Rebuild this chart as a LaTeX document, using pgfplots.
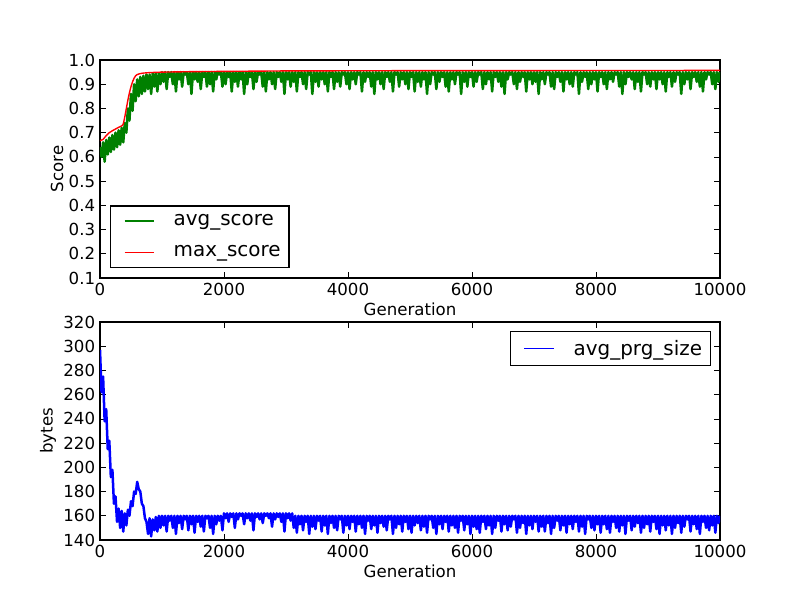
\documentclass[border=0pt]{standalone}
\usepackage{fontspec}
\setmainfont{DejaVu Sans}
\usepackage{pgfplots}
\usepackage{pgfplotstable}
\pgfplotsset{compat=1.18}
\definecolor{mgreen}{rgb}{0,0.5,0}
\pgfplotstableread[row sep=\\, header=false]{
0.64\\0.60\\0.66\\0.58\\0.67\\0.61\\0.68\\0.62\\0.69\\0.63\\0.70\\0.64\\0.71\\0.65\\0.72\\0.66\\
0.74\\0.70\\0.80\\0.75\\0.86\\0.79\\0.90\\0.83\\0.92\\0.85\\0.93\\0.86\\0.935\\0.87\\0.94\\0.88\\0.94\\0.86\\0.945\\0.89\\0.945\\0.87\\0.945\\0.90\\
0.95\\
0.91\\0.95\\0.88\\0.95\\0.93\\0.95\\0.90\\0.95\\0.87\\0.95\\0.92\\0.95\\0.89\\0.95\\0.94\\0.95\\0.90\\0.95\\0.86\\0.95\\
0.92\\0.95\\0.91\\0.95\\0.88\\0.95\\0.93\\0.95\\0.89\\0.95\\0.90\\0.95\\0.87\\0.95\\0.92\\0.95\\0.94\\0.95\\0.89\\0.95\\
0.90\\0.95\\0.93\\0.95\\0.87\\0.95\\0.91\\0.95\\0.89\\0.95\\0.92\\0.95\\0.86\\0.95\\0.90\\0.95\\0.93\\0.95\\0.88\\0.95\\
0.91\\0.95\\0.94\\0.95\\0.89\\0.95\\0.87\\0.95\\0.92\\0.95\\0.90\\0.95\\0.88\\0.95\\0.93\\0.95\\0.91\\0.95\\0.86\\0.95\\
0.92\\0.95\\0.89\\0.95\\0.91\\0.95\\0.87\\0.95\\0.93\\0.95\\0.90\\0.95\\0.88\\0.95\\0.94\\0.95\\0.86\\0.95\\0.91\\0.95\\
0.89\\0.95\\0.92\\0.95\\0.90\\0.95\\0.87\\0.95\\0.93\\0.95\\0.88\\0.95\\0.91\\0.95\\0.89\\0.95\\0.94\\0.95\\0.90\\0.95\\
0.88\\0.95\\0.92\\0.95\\0.90\\0.95\\0.94\\0.95\\0.87\\0.95\\0.91\\0.95\\0.93\\0.95\\0.89\\0.95\\0.86\\0.95\\0.92\\0.95\\
0.90\\0.95\\0.88\\0.95\\0.93\\0.95\\0.91\\0.95\\0.87\\0.95\\0.94\\0.95\\0.89\\0.95\\0.92\\0.95\\0.90\\0.95\\0.88\\0.95\\
0.93\\0.95\\0.87\\0.95\\0.91\\0.95\\0.89\\0.95\\0.92\\0.95\\0.86\\0.95\\0.90\\0.95\\0.94\\0.95\\0.88\\0.95\\0.91\\0.95\\
0.93\\0.95\\0.89\\0.95\\0.87\\0.95\\0.92\\0.95\\0.90\\0.95\\0.94\\0.95\\0.86\\0.95\\0.91\\0.95\\0.89\\0.95\\0.93\\0.95\\
0.89\\0.95\\0.91\\0.95\\0.94\\0.95\\0.88\\0.95\\0.90\\0.95\\0.92\\0.95\\0.87\\0.95\\0.93\\0.95\\0.91\\0.95\\0.89\\0.95\\
0.86\\0.95\\0.92\\0.95\\0.94\\0.95\\0.90\\0.95\\0.88\\0.95\\0.91\\0.95\\0.93\\0.95\\0.87\\0.95\\0.92\\0.95\\0.90\\0.95\\
0.91\\0.95\\0.86\\0.95\\0.92\\0.95\\0.90\\0.95\\0.94\\0.95\\0.89\\0.95\\0.88\\0.95\\0.93\\0.95\\0.91\\0.95\\0.87\\0.95\\
0.92\\0.95\\0.90\\0.95\\0.89\\0.95\\0.94\\0.95\\0.86\\0.95\\0.91\\0.95\\0.93\\0.95\\0.88\\0.95\\0.90\\0.95\\0.92\\0.95\\
0.87\\0.95\\0.93\\0.95\\0.90\\0.95\\0.88\\0.95\\0.92\\0.95\\0.91\\0.95\\0.94\\0.95\\0.89\\0.95\\0.86\\0.95\\0.90\\0.95\\
0.93\\0.95\\0.92\\0.95\\0.88\\0.95\\0.91\\0.95\\0.87\\0.95\\0.94\\0.95\\0.90\\0.95\\0.89\\0.95\\0.92\\0.95\\0.88\\0.95\\
0.92\\0.95\\0.90\\0.95\\0.87\\0.95\\0.93\\0.95\\0.89\\0.95\\0.91\\0.95\\0.94\\0.95\\0.86\\0.95\\0.90\\0.95\\0.92\\0.95\\
0.88\\0.95\\0.93\\0.95\\0.91\\0.95\\0.89\\0.95\\0.87\\0.95\\0.92\\0.95\\0.94\\0.95\\0.90\\0.95\\0.88\\0.95\\0.91\\0.95\\
}\avgtable
\pgfplotstableread[row sep=\\, header=false]{
297\\262\\275\\238\\248\\215\\222\\192\\198\\170\\176\\155\\166\\150\\164\\147\\162\\152\\165\\160\\
172\\168\\180\\178\\188\\182\\180\\170\\168\\158\\155\\145\\158\\143\\157\\148\\159\\147\\160\\150\\
160\\
152\\160\\147\\160\\156\\160\\150\\160\\145\\160\\154\\160\\149\\160\\157\\160\\148\\160\\153\\160\\
146\\160\\155\\160\\151\\160\\147\\160\\158\\160\\150\\160\\145\\160\\153\\160\\156\\160\\148\\162\\
158\\162\\155\\162\\159\\162\\150\\162\\157\\162\\160\\162\\153\\162\\158\\162\\156\\162\\148\\162\\
159\\162\\157\\162\\154\\162\\160\\162\\158\\162\\151\\162\\157\\162\\159\\162\\155\\162\\147\\162\\
158\\162\\156\\162\\
150\\160\\146\\160\\153\\160\\148\\160\\155\\160\\145\\160\\151\\160\\149\\160\\156\\160\\147\\160\\
152\\160\\145\\160\\154\\160\\150\\160\\148\\160\\157\\160\\146\\160\\152\\160\\149\\160\\155\\160\\
147\\160\\153\\160\\150\\160\\145\\160\\156\\160\\149\\160\\152\\160\\146\\160\\154\\160\\151\\160\\
148\\160\\157\\160\\145\\160\\150\\160\\153\\160\\147\\160\\155\\160\\149\\160\\146\\160\\152\\160\\
154\\160\\148\\160\\151\\160\\146\\160\\157\\160\\150\\160\\145\\160\\153\\160\\149\\160\\155\\160\\
147\\160\\152\\160\\150\\160\\146\\160\\156\\160\\148\\160\\153\\160\\145\\160\\151\\160\\149\\160\\
146\\160\\155\\160\\149\\160\\152\\160\\145\\160\\150\\160\\156\\160\\147\\160\\153\\160\\148\\160\\
151\\160\\157\\160\\146\\160\\150\\160\\154\\160\\145\\160\\152\\160\\149\\160\\155\\160\\147\\160\\
151\\160\\147\\160\\154\\160\\145\\160\\150\\160\\156\\160\\148\\160\\152\\160\\146\\160\\153\\160\\
149\\160\\155\\160\\147\\160\\151\\160\\145\\160\\157\\160\\150\\160\\148\\160\\153\\160\\146\\160\\
153\\160\\149\\160\\146\\160\\155\\160\\150\\160\\147\\160\\152\\160\\145\\160\\156\\160\\148\\160\\
151\\160\\154\\160\\146\\160\\150\\160\\153\\160\\147\\160\\155\\160\\149\\160\\145\\160\\152\\160\\
148\\160\\152\\160\\145\\160\\150\\160\\154\\160\\146\\160\\151\\160\\157\\160\\147\\160\\153\\160\\
149\\160\\145\\160\\155\\160\\150\\160\\148\\160\\152\\160\\146\\160\\154\\160\\
}\prgtable
\pgfplotstableread{
x y
0 0.667
50 0.672
100 0.688
150 0.700
200 0.708
250 0.715
300 0.722
350 0.728
375 0.735
400 0.765
425 0.800
450 0.835
475 0.865
500 0.890
525 0.910
550 0.925
575 0.935
600 0.940
650 0.944
700 0.946
800 0.948
1000 0.950
1500 0.952
2000 0.953
3000 0.955
5000 0.956
10000 0.957
}\maxtable
\pgfplotsset{myax/.style={
  scale only axis, width=446.4bp, height=156.96bp,
  xmin=0, xmax=10000, xtick={0,2000,4000,6000,8000,10000},
  scaled x ticks=false, scaled y ticks=false,
  xticklabel style={/pgf/number format/.cd, 1000 sep={}},
  tick align=inside, major tick length=4bp,
  every tick/.style={black, line width=0.5bp},
  axis line style={line width=1bp},
  tick label style={font=\fontsize{12}{14}\selectfont},
  label style={font=\fontsize{12}{14}\selectfont},
  /pgf/number format/assume math mode=true,
  xlabel style={at={(axis description cs:0.5,-0.142)}, anchor=center},
  legend cell align=left,
  legend image code/.code={\draw[##1] (4bp,0bp) -- (25bp,0bp); \draw[draw=none] (0bp,0bp) -- (39.4bp,0bp);},
  legend style={draw=black, line width=1bp, fill=white,
    font=\fontsize{14.4}{17}\selectfont, inner xsep=6bp, inner ysep=4bp,
    row sep=9bp, nodes={inner xsep=0bp, inner ysep=2bp}},
}}
\begin{document}
\begin{tikzpicture}
\path[use as bounding box] (0bp,0bp) rectangle (576bp,432bp);
\begin{axis}[myax, at={(72bp,231.84bp)}, anchor=south west,
  ymin=0.1, ymax=1.0, ytick={0.1,0.2,0.3,0.4,0.5,0.6,0.7,0.8,0.9,1.0},
  yticklabel style={/pgf/number format/.cd, fixed, fixed zerofill, precision=1},
  xlabel={Generation}, ylabel={Score},
  ylabel style={at={(axis description cs:-0.0694,0.5)}, anchor=center, rotate=0},
  legend style={at={(rel axis cs:0.0161,0.0459)}, anchor=south west}]
\addplot[mgreen, line width=1.8bp, line join=round, legend image post style={line width=1bp}] table[x expr=\coordindex*25, y index=0] {\avgtable};
\addlegendentry{avg\_score}
\addplot[red, line width=1bp, legend image post style={line width=1bp}] table[x=x, y=y] {\maxtable};
\addlegendentry{max\_score}
\end{axis}
\begin{axis}[myax, at={(72bp,43.2bp)}, anchor=south west,
  ymin=140, ymax=320, ytick={140,160,180,200,220,240,260,280,300,320},
  xlabel={Generation}, ylabel={bytes},
  ylabel style={at={(axis description cs:-0.0839,0.5)}, anchor=center, rotate=0},
  legend style={at={(rel axis cs:0.9855,0.9587)}, anchor=north east}]
\addplot[blue, line width=1.8bp, line join=round, legend image post style={line width=1bp}] table[x expr=\coordindex*25, y index=0] {\prgtable};
\addlegendentry{avg\_prg\_size}
\end{axis}
\end{tikzpicture}
\end{document}
